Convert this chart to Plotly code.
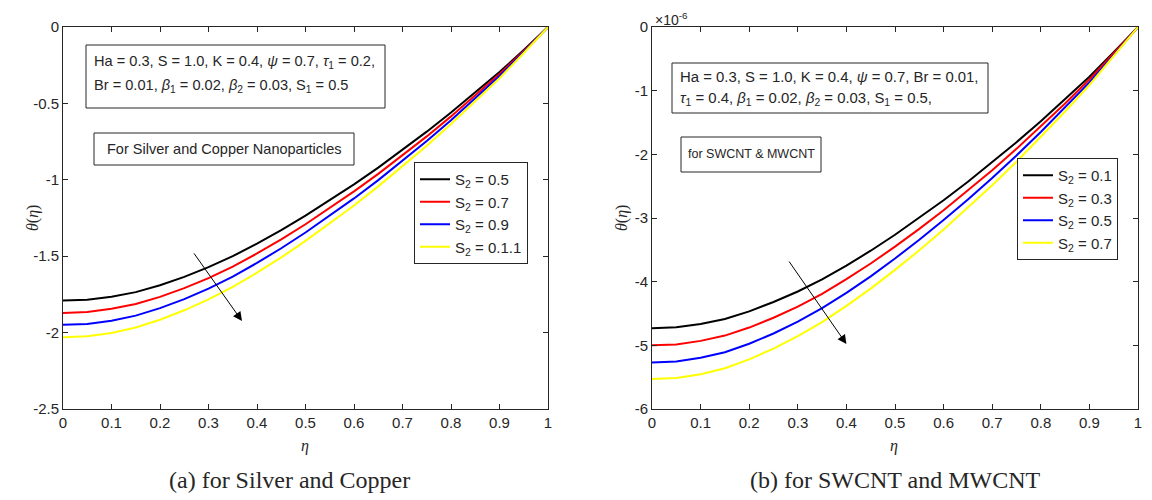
import plotly.graph_objects as go

W, H = 1152, 500
OFF = 8  # page body margin in the browser

eta = [0.0, 0.05, 0.1, 0.15, 0.2, 0.25, 0.3, 0.35, 0.4, 0.45, 0.5,
       0.55, 0.6, 0.65, 0.7, 0.75, 0.8, 0.85, 0.9, 0.95, 1.0]

# Panel (a): Silver and Copper
a_labels = ["S<sub>2</sub> = 0.5", "S<sub>2</sub> = 0.7", "S<sub>2</sub> = 0.9", "S<sub>2</sub> = 0.1.1"]
a_s05 = [-1.790, -1.785, -1.765, -1.735, -1.690, -1.635, -1.572, -1.500, -1.418, -1.330, -1.235,
         -1.135, -1.030, -0.920, -0.805, -0.685, -0.560, -0.430, -0.295, -0.150, 0.0]
a_s07 = [-1.871, -1.865, -1.844, -1.813, -1.766, -1.709, -1.643, -1.568, -1.482, -1.390, -1.291,
         -1.186, -1.076, -0.961, -0.841, -0.716, -0.585, -0.449, -0.308, -0.157, 0.0]
a_s09 = [-1.949, -1.944, -1.922, -1.889, -1.840, -1.781, -1.712, -1.634, -1.544, -1.448, -1.345,
         -1.236, -1.122, -1.002, -0.877, -0.746, -0.610, -0.468, -0.321, -0.163, 0.0]
a_s11 = [-2.030, -2.024, -2.002, -1.967, -1.916, -1.854, -1.783, -1.701, -1.608, -1.508, -1.400,
         -1.287, -1.168, -1.043, -0.913, -0.777, -0.635, -0.488, -0.335, -0.170, 0.0]

# Panel (b): SWCNT and MWCNT (values in units of 1e-6)
b_labels = ["S<sub>2</sub> = 0.1", "S<sub>2</sub> = 0.3", "S<sub>2</sub> = 0.5", "S<sub>2</sub> = 0.7"]
b_s01 = [-4.730, -4.717, -4.664, -4.585, -4.466, -4.320, -4.154, -3.964, -3.747, -3.514, -3.263,
         -2.999, -2.722, -2.431, -2.127, -1.810, -1.480, -1.136, -0.780, -0.396, 0.0]
b_s03 = [-5.000, -4.986, -4.930, -4.847, -4.721, -4.567, -4.391, -4.190, -3.961, -3.715, -3.450,
         -3.171, -2.877, -2.570, -2.249, -1.914, -1.564, -1.201, -0.824, -0.419, 0.0]
b_s05 = [-5.270, -5.255, -5.196, -5.108, -4.975, -4.814, -4.628, -4.416, -4.175, -3.916, -3.636,
         -3.342, -3.032, -2.709, -2.370, -2.017, -1.648, -1.266, -0.869, -0.442, 0.0]
b_s07 = [-5.530, -5.514, -5.453, -5.360, -5.221, -5.051, -4.856, -4.634, -4.381, -4.109, -3.815,
         -3.507, -3.182, -2.842, -2.487, -2.116, -1.730, -1.328, -0.911, -0.463, 0.0]

x_ticks = [0, 0.1, 0.2, 0.3, 0.4, 0.5, 0.6, 0.7, 0.8, 0.9, 1]
x_ticktext = ["0", "0.1", "0.2", "0.3", "0.4", "0.5", "0.6", "0.7", "0.8", "0.9", "1"]
a_yticks = [0, -0.5, -1, -1.5, -2, -2.5]
a_yticktext = ["0", "-0.5", "-1", "-1.5", "-2", "-2.5"]
b_yticks = [0, -1, -2, -3, -4, -5, -6]
b_yticktext = ["0", "-1", "-2", "-3", "-4", "-5", "-6"]

colors = ["#000000", "#ff0000", "#0000ff", "#ffff00"]
FONT = "Liberation Sans, Arial, Helvetica, sans-serif"
SERIF = "Liberation Serif, DejaVu Serif, serif"


def px(x):
    return (x - OFF) / W


def py(y):
    return 1 - (y - OFF) / H


fig = go.Figure()

for ys, name, c in zip([a_s05, a_s07, a_s09, a_s11], a_labels, colors):
    fig.add_trace(go.Scatter(x=eta, y=ys, mode="lines", name=name,
                             line=dict(color=c, width=2), xaxis="x", yaxis="y", legend="legend"))
for ys, name, c in zip([b_s01, b_s03, b_s05, b_s07], b_labels, colors):
    fig.add_trace(go.Scatter(x=eta, y=ys, mode="lines", name=name,
                             line=dict(color=c, width=2), xaxis="x2", yaxis="y2", legend="legend2"))

axis_common = dict(showline=True, linecolor="#262626", linewidth=1, mirror="ticks",
                   ticks="inside", ticklen=5, tickcolor="#262626", showgrid=False, zeroline=False,
                   automargin=False,
                   tickfont=dict(family=FONT, size=15, color="#262626"))

fig.update_layout(
    width=W, height=H,
    margin=dict(l=0, r=0, t=0, b=0),
    paper_bgcolor="white", plot_bgcolor="white",
    font=dict(family=FONT, color="#262626"),
    xaxis=dict(domain=[px(63), px(548)], range=[0, 1], tickvals=x_ticks, ticktext=x_ticktext,
               anchor="y", **axis_common),
    yaxis=dict(domain=[py(409), py(27)], range=[-2.5, 0], tickvals=a_yticks, ticktext=a_yticktext,
               anchor="x", **axis_common),
    xaxis2=dict(domain=[px(652), px(1138)], range=[0, 1], tickvals=x_ticks, ticktext=x_ticktext,
                anchor="y2", **axis_common),
    yaxis2=dict(domain=[py(409), py(27)], range=[-6, 0], tickvals=b_yticks, ticktext=b_yticktext,
                anchor="x2", **axis_common),
    legend=dict(x=px(414), y=py(162), xanchor="left", yanchor="top", bgcolor="white",
                bordercolor="#262626", borderwidth=1, font=dict(family=FONT, size=15, color="#262626"),
                tracegroupgap=0),
    legend2=dict(x=px(1017), y=py(158), xanchor="left", yanchor="top", bgcolor="white",
                 bordercolor="#262626", borderwidth=1, font=dict(family=FONT, size=15, color="#262626"),
                 tracegroupgap=0),
    showlegend=True,
)

shapes = []
annotations = []


def box(x0, y0, x1, y1):
    shapes.append(dict(type="rect", xref="paper", yref="paper", x0=px(x0), x1=px(x1),
                       y0=py(y1), y1=py(y0), line=dict(color="#262626", width=1), fillcolor="white",
                       layer="above"))


def text(x, y, s, size=14.6, xanchor="left", family=FONT, textangle=0):
    annotations.append(dict(xref="paper", yref="paper", x=px(x), y=py(y), text=s, showarrow=False,
                            xanchor=xanchor, yanchor="middle", textangle=textangle,
                            font=dict(family=family, size=size, color="#262626")))


# axis titles
text(305, 446, "<i>η</i>", size=16, xanchor="center", family=SERIF)
text(894, 446, "<i>η</i>", size=16, xanchor="center", family=SERIF)
text(33, 218, "<i>θ</i>(<i>η</i>)", size=16, xanchor="center", family=SERIF, textangle=-90)
text(622, 218, "<i>θ</i>(<i>η</i>)", size=16, xanchor="center", family=SERIF, textangle=-90)

# Panel (a) boxes
box(86, 45, 385, 108)
text(92, 62, "Ha = 0.3, S = 1.0, K = 0.4, <i>ψ</i> = 0.7, <i>τ</i><sub>1</sub> = 0.2,")
text(92, 86, "Br = 0.01, <i>β</i><sub>1</sub> = 0.02, <i>β</i><sub>2</sub> = 0.03, S<sub>1</sub> = 0.5")
box(94, 133, 354, 165)
text(224, 149, "For Silver and Copper Nanoparticles", size=14.5, xanchor="center")

# Panel (b) boxes
box(672, 63, 988, 113)
text(678, 77, "Ha = 0.3, S = 1.0, K = 0.4, <i>ψ</i> = 0.7, Br = 0.01,", size=14.9)
text(678, 99, "<i>τ</i><sub>1</sub> = 0.4, <i>β</i><sub>1</sub> = 0.02, <i>β</i><sub>2</sub> = 0.03, S<sub>1</sub> = 0.5,", size=14.9)
box(681, 137, 821, 172)
text(751, 154, "for SWCNT &amp; MWCNT", size=12.5, xanchor="center")

# exponent label
text(653, 19, "×10<sup>-6</sup>", size=14)

# captions
text(289, 480, "(a) for Silver and Copper", size=24, xanchor="center", family=SERIF)
text(895, 480, "(b) for SWCNT and MWCNT", size=24, xanchor="center", family=SERIF)

# arrows
annotations.append(dict(x=0.369, y=-1.924, ax=0.268, ay=-1.472, xref="x", yref="y", axref="x", ayref="y",
                        showarrow=True, arrowhead=2, arrowsize=1.8, arrowwidth=1, arrowcolor="black", text=""))
annotations.append(dict(x=0.400, y=-4.98, ax=0.280, ay=-3.66, xref="x2", yref="y2", axref="x2", ayref="y2",
                        showarrow=True, arrowhead=2, arrowsize=1.8, arrowwidth=1, arrowcolor="black", text=""))

fig.update_layout(shapes=shapes, annotations=annotations)

fig.write_html("out.html")
